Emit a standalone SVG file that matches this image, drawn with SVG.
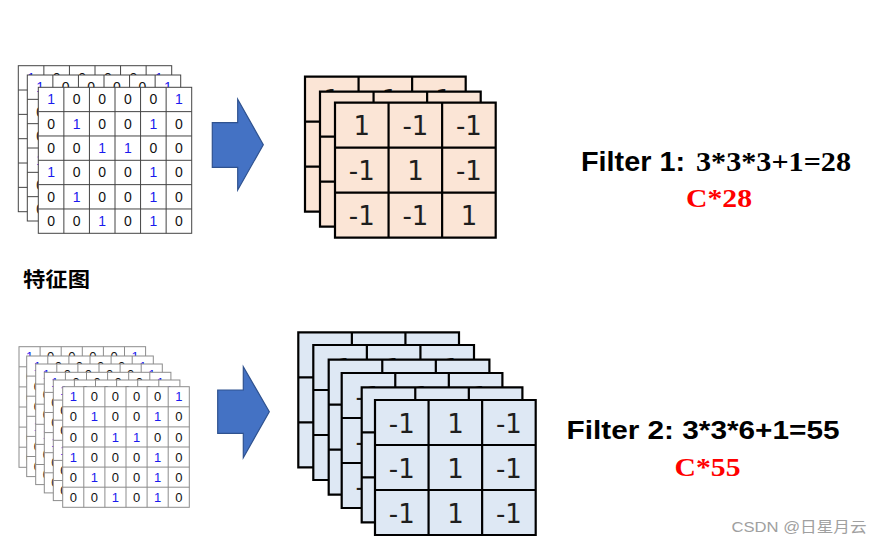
<svg xmlns="http://www.w3.org/2000/svg" xmlns:xlink="http://www.w3.org/1999/xlink" width="883" height="544" viewBox="0 0 883 544">
<style>
.ga{fill:#fff;stroke:#444;stroke-width:1}
.gb{fill:#fff;stroke:#8c8c8c;stroke-width:1}
.da{font-family:"Liberation Sans",Arial,sans-serif;font-size:14px;text-anchor:middle;fill:#111}
.db{font-family:"Liberation Sans",Arial,sans-serif;font-size:13px;text-anchor:middle;fill:#111}
.b{fill:#1a1aee}
.fa{fill:#fbe5d6;stroke:#000;stroke-width:2.2}
.fb{fill:#dee8f4;stroke:#000;stroke-width:2.2}
.fd{font-family:"DejaVu Sans",Verdana,sans-serif;font-size:26px;text-anchor:middle;fill:#1e1e1e}
.arr{fill:#4472c4;stroke:#2f528f;stroke-width:1.2}
.lbl{font-family:"Liberation Sans",Arial,sans-serif;font-weight:bold;fill:#000}
.tnr{font-family:"Liberation Serif","Times New Roman",serif;font-weight:bold}
</style>
<defs>
<g id="fmA">
<rect class="ga" width="153.4" height="146"/>
<path class="ga" fill="none" d="M25.57 0V146M51.13 0V146M76.7 0V146M102.27 0V146M127.83 0V146M0 24.33H153.4M0 48.67H153.4M0 73H153.4M0 97.33H153.4M0 121.67H153.4"/>
<text class="da" y="17.2"><tspan x="12.8" class="b">1</tspan><tspan x="38.4">0</tspan><tspan x="63.9">0</tspan><tspan x="89.5">0</tspan><tspan x="115.1">0</tspan><tspan x="140.6" class="b">1</tspan></text>
<text class="da" y="41.5"><tspan x="12.8">0</tspan><tspan x="38.4" class="b">1</tspan><tspan x="63.9">0</tspan><tspan x="89.5">0</tspan><tspan x="115.1" class="b">1</tspan><tspan x="140.6">0</tspan></text>
<text class="da" y="65.8"><tspan x="12.8">0</tspan><tspan x="38.4">0</tspan><tspan x="63.9" class="b">1</tspan><tspan x="89.5" class="b">1</tspan><tspan x="115.1">0</tspan><tspan x="140.6">0</tspan></text>
<text class="da" y="90.2"><tspan x="12.8" class="b">1</tspan><tspan x="38.4">0</tspan><tspan x="63.9">0</tspan><tspan x="89.5">0</tspan><tspan x="115.1" class="b">1</tspan><tspan x="140.6">0</tspan></text>
<text class="da" y="114.5"><tspan x="12.8">0</tspan><tspan x="38.4" class="b">1</tspan><tspan x="63.9">0</tspan><tspan x="89.5">0</tspan><tspan x="115.1" class="b">1</tspan><tspan x="140.6">0</tspan></text>
<text class="da" y="138.8"><tspan x="12.8">0</tspan><tspan x="38.4">0</tspan><tspan x="63.9" class="b">1</tspan><tspan x="89.5">0</tspan><tspan x="115.1" class="b">1</tspan><tspan x="140.6">0</tspan></text>
</g>
<g id="fmB">
<rect class="gb" width="126.6" height="120.6"/>
<path class="gb" fill="none" d="M21.1 0V120.6M42.2 0V120.6M63.3 0V120.6M84.4 0V120.6M105.5 0V120.6M0 20.1H126.6M0 40.2H126.6M0 60.3H126.6M0 80.4H126.6M0 100.5H126.6"/>
<text class="db" y="14.7"><tspan x="10.6" class="b">1</tspan><tspan x="31.7">0</tspan><tspan x="52.8">0</tspan><tspan x="73.9">0</tspan><tspan x="95">0</tspan><tspan x="116.1" class="b">1</tspan></text>
<text class="db" y="34.8"><tspan x="10.6">0</tspan><tspan x="31.7" class="b">1</tspan><tspan x="52.8">0</tspan><tspan x="73.9">0</tspan><tspan x="95" class="b">1</tspan><tspan x="116.1">0</tspan></text>
<text class="db" y="54.9"><tspan x="10.6">0</tspan><tspan x="31.7">0</tspan><tspan x="52.8" class="b">1</tspan><tspan x="73.9" class="b">1</tspan><tspan x="95">0</tspan><tspan x="116.1">0</tspan></text>
<text class="db" y="75"><tspan x="10.6" class="b">1</tspan><tspan x="31.7">0</tspan><tspan x="52.8">0</tspan><tspan x="73.9">0</tspan><tspan x="95" class="b">1</tspan><tspan x="116.1">0</tspan></text>
<text class="db" y="95.1"><tspan x="10.6">0</tspan><tspan x="31.7" class="b">1</tspan><tspan x="52.8">0</tspan><tspan x="73.9">0</tspan><tspan x="95" class="b">1</tspan><tspan x="116.1">0</tspan></text>
<text class="db" y="115.2"><tspan x="10.6">0</tspan><tspan x="31.7">0</tspan><tspan x="52.8" class="b">1</tspan><tspan x="73.9">0</tspan><tspan x="95" class="b">1</tspan><tspan x="116.1">0</tspan></text>
</g>
<path id="fgrid" d="M0 0H160.7V135H0ZM53.57 0V135M107.13 0V135M0 45H160.7M0 90H160.7"/>
<g id="fltA">
<use xlink:href="#fgrid" class="fa"/>
<text class="fd" y="32.5"><tspan x="26.8">1</tspan><tspan x="80.4">-1</tspan><tspan x="133.9">-1</tspan></text>
<text class="fd" y="77.5"><tspan x="26.8">-1</tspan><tspan x="80.4">1</tspan><tspan x="133.9">-1</tspan></text>
<text class="fd" y="122.5"><tspan x="26.8">-1</tspan><tspan x="80.4">-1</tspan><tspan x="133.9">1</tspan></text>
</g>
<g id="fltB">
<use xlink:href="#fgrid" class="fb"/>
<text class="fd" y="32.5"><tspan x="26.8">-1</tspan><tspan x="80.4">1</tspan><tspan x="133.9">-1</tspan></text>
<text class="fd" y="77.5"><tspan x="26.8">-1</tspan><tspan x="80.4">1</tspan><tspan x="133.9">-1</tspan></text>
<text class="fd" y="122.5"><tspan x="26.8">-1</tspan><tspan x="80.4">1</tspan><tspan x="133.9">-1</tspan></text>
</g>
</defs>
<rect width="883" height="544" fill="#fff"/>

<g id="featuremap1">
<use xlink:href="#fmA" x="18.3" y="65.7"/>
<use xlink:href="#fmA" x="27.3" y="75"/>
<use xlink:href="#fmA" x="38.3" y="87.3"/>
</g>
<g id="featuremap2">
<use xlink:href="#fmB" x="19" y="346.7"/>
<use xlink:href="#fmB" x="26.7" y="356"/>
<use xlink:href="#fmB" x="35.7" y="364"/>
<use xlink:href="#fmB" x="44.3" y="372.3"/>
<use xlink:href="#fmB" x="53.3" y="380"/>
<use xlink:href="#fmB" x="62.7" y="386.7"/>
</g>
<g id="label-featuremap">
<text x="23" y="287" textLength="67" lengthAdjust="spacingAndGlyphs" style="font-family:'Noto Sans CJK SC','Noto Sans CJK JP',sans-serif;font-weight:bold;font-size:20px;fill:#000">特征图</text>
</g>

<g id="filter1">
<use xlink:href="#fltA" x="305" y="76.7"/>
<use xlink:href="#fltA" x="320" y="91.7"/>
<use xlink:href="#fltA" x="335" y="102.7"/>
</g>
<g id="filter2">
<use xlink:href="#fltB" x="298.3" y="332.3"/>
<use xlink:href="#fltB" x="313.3" y="345"/>
<use xlink:href="#fltB" x="328.7" y="359.7"/>
<use xlink:href="#fltB" x="341.7" y="373"/>
<use xlink:href="#fltB" x="361.7" y="387.3"/>
<use xlink:href="#fltB" x="375" y="400"/>
</g>

<g id="connectors">
<polygon class="arr" points="212.3,122.7 237.7,122.7 237.7,99.3 263.3,144.7 237.7,190 237.7,167.3 212.3,167.3"/>
<polygon class="arr" points="217.7,390 243.3,390 243.3,366.7 269.3,411.7 243.3,457.7 243.3,433.3 217.7,433.3"/>
</g>

<g id="label-filter1">
<text class="lbl" x="581" y="170.7" font-size="27" textLength="104" lengthAdjust="spacingAndGlyphs">Filter 1:</text>
<text x="696" y="170.7" textLength="155" lengthAdjust="spacingAndGlyphs" style="font-family:'Liberation Serif','Times New Roman',serif;font-weight:bold;font-size:28px;fill:#000">3*3*3+1=28</text>
<text class="tnr" x="686" y="206.7" font-size="25" fill="#ff0000" textLength="66" lengthAdjust="spacingAndGlyphs">C*28</text>
</g>
<g id="label-filter2">
<text class="lbl" x="566.5" y="439.3" font-size="25.5" textLength="273" lengthAdjust="spacingAndGlyphs">Filter 2: 3*3*6+1=55</text>
<text class="tnr" x="674.5" y="476" font-size="25" fill="#ff0000" textLength="66" lengthAdjust="spacingAndGlyphs">C*55</text>
</g>
<g id="watermark">
<text x="731.5" y="531.5" font-size="15" textLength="135" lengthAdjust="spacingAndGlyphs" style="font-family:'Liberation Sans','Noto Sans CJK SC',sans-serif;fill:#a0a0a0">CSDN @日星月云</text>
</g>
</svg>
